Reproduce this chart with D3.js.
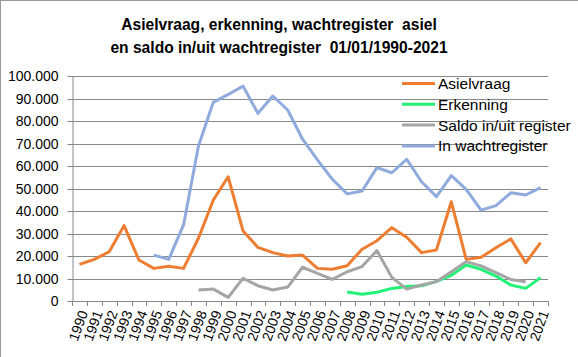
<!DOCTYPE html>
<html><head><meta charset="utf-8">
<script src="https://cdn.jsdelivr.net/npm/d3@7"></script>
<style>html,body{margin:0;padding:0;background:#fff;overflow:hidden}svg{display:block}</style>
</head><body>
<svg id="c" width="578" height="357"></svg>
<script>
const years = d3.range(1990, 2022).map(String);
const asielvraag = [16300,18500,21900,33500,18200,14500,15400,14500,27900,44900,55200,31100,23800,21500,20000,20400,14500,14100,15700,23000,26800,32600,28300,21500,22700,44100,18500,19400,23700,27600,17000,25900];
const erkenningYears = d3.range(2008, 2022).map(String);
const erkenning = [4000,3000,3900,5600,6400,6800,8700,11400,16000,14100,11100,7100,5600,10400];
const saldoYears = d3.range(1998, 2021).map(String);
const saldo = [4900,5300,1600,10100,6800,4900,6200,15000,12300,9600,13000,15300,22400,10500,5300,7100,8600,13000,17500,15600,12600,9600,8600];
const wachtYears = d3.range(1995, 2022).map(String);
const wacht = [20400,18500,33800,68900,88300,91800,95500,83400,91100,84900,71900,62700,54100,47600,48900,59300,57000,63000,53000,46400,55700,49600,40400,42400,48100,47100,50400];
const yTicks = d3.range(0, 100001, 10000);
const titleLines = ["Asielvraag, erkenning, wachtregister  asiel", "en saldo in/uit wachtregister  01/01/1990-2021"];

const series = [
  {name:"Asielvraag", cats:years, vals:asielvraag, color:"#ED7D31"},
  {name:"Erkenning", cats:erkenningYears, vals:erkenning, color:"#22F176"},
  {name:"Saldo in/uit register", cats:saldoYears, vals:saldo, color:"#A5A5A5"},
  {name:"In wachtregister", cats:wachtYears, vals:wacht, color:"#8FAADC"}
];

const svg = d3.select("#c");
const font = "'Liberation Sans', Arial, sans-serif";
svg.append("rect").attr("x",0.5).attr("y",0.5).attr("width",700).attr("height",500)
  .attr("fill","#fff").attr("stroke","#999");

const L = 72, R = 548, T = 76, B = 301;
const x = d3.scaleBand().domain(years).range([L, R]).padding(0);
const y = d3.scaleLinear().domain([0, 100000]).range([B, T]);
const cx = d => x(d) + x.bandwidth()/2;

// gridlines
svg.append("g").selectAll("line").data(yTicks.filter(d=>d>0)).join("line")
  .attr("x1", L).attr("x2", R).attr("y1", d=>Math.round(y(d))+0.5).attr("y2", d=>Math.round(y(d))+0.5)
  .attr("stroke", "#888").attr("stroke-width", 1);

// y axis
const fmt = d => d3.format(",")(d).replace(/,/g, ".");
const ya = svg.append("g").attr("transform", `translate(${L+0.5},0.5)`)
  .call(d3.axisLeft(y).tickValues(yTicks).tickFormat(fmt).tickSize(5).tickPadding(9).tickSizeOuter(0));
ya.selectAll("text").attr("font-family", font).attr("font-size", 14).attr("fill", "#000");
ya.selectAll("line,path").attr("stroke", "#888");
ya.selectAll(".tick").attr("transform", d => `translate(0,${Math.round(y(d))})`);

// x axis
const xa = svg.append("g");
xa.append("line").attr("x1", L).attr("x2", R).attr("y1", B+0.5).attr("y2", B+0.5).attr("stroke", "#888");
const bounds = years.map(d=>x(d)).concat([R]);
xa.selectAll("line.tk").data(bounds).join("line").attr("class","tk")
  .attr("x1", d=>Math.round(d)+0.5).attr("x2", d=>Math.round(d)+0.5).attr("y1", B).attr("y2", B+5).attr("stroke", "#888");
xa.selectAll("text").data(years).join("text")
  .attr("transform", d => `translate(${cx(d)+4},${B+10}) rotate(-70)`)
  .attr("text-anchor", "end").attr("dy", "0.35em")
  .attr("font-family", font).attr("font-size", 14).attr("fill", "#000")
  .text(d=>d);

// lines
const line = d3.line().x(d=>cx(d[0])).y(d=>y(d[1]));
series.forEach(s => {
  svg.append("path").datum(s.cats.map((c,i)=>[c, s.vals[i]]))
    .attr("d", line).attr("fill","none").attr("stroke", s.color)
    .attr("stroke-width", 3).attr("stroke-linejoin","round");
});

// legend
const lg = svg.append("g");
series.forEach((s,i) => {
  const yy = 83.5 + i*20.8;
  lg.append("line").attr("x1", 402).attr("x2", 435).attr("y1", yy).attr("y2", yy)
    .attr("stroke", s.color).attr("stroke-width", 3);
  lg.append("text").attr("x", 438).attr("y", yy).attr("dy","0.35em")
    .attr("font-family", font).attr("font-size", 15.5).attr("fill","#000").text(s.name);
});

// title
svg.append("g").selectAll("text").data(titleLines).join("text")
  .attr("x", 279).attr("y", (d,i)=> 29.5 + i*23.5).attr("text-anchor","middle")
  .attr("font-family", font).attr("font-weight","bold").attr("font-size", 15.6)
  .attr("fill","#000").style("white-space","pre").attr("xml:space","preserve").text(d=>d);
</script>
</body></html>
